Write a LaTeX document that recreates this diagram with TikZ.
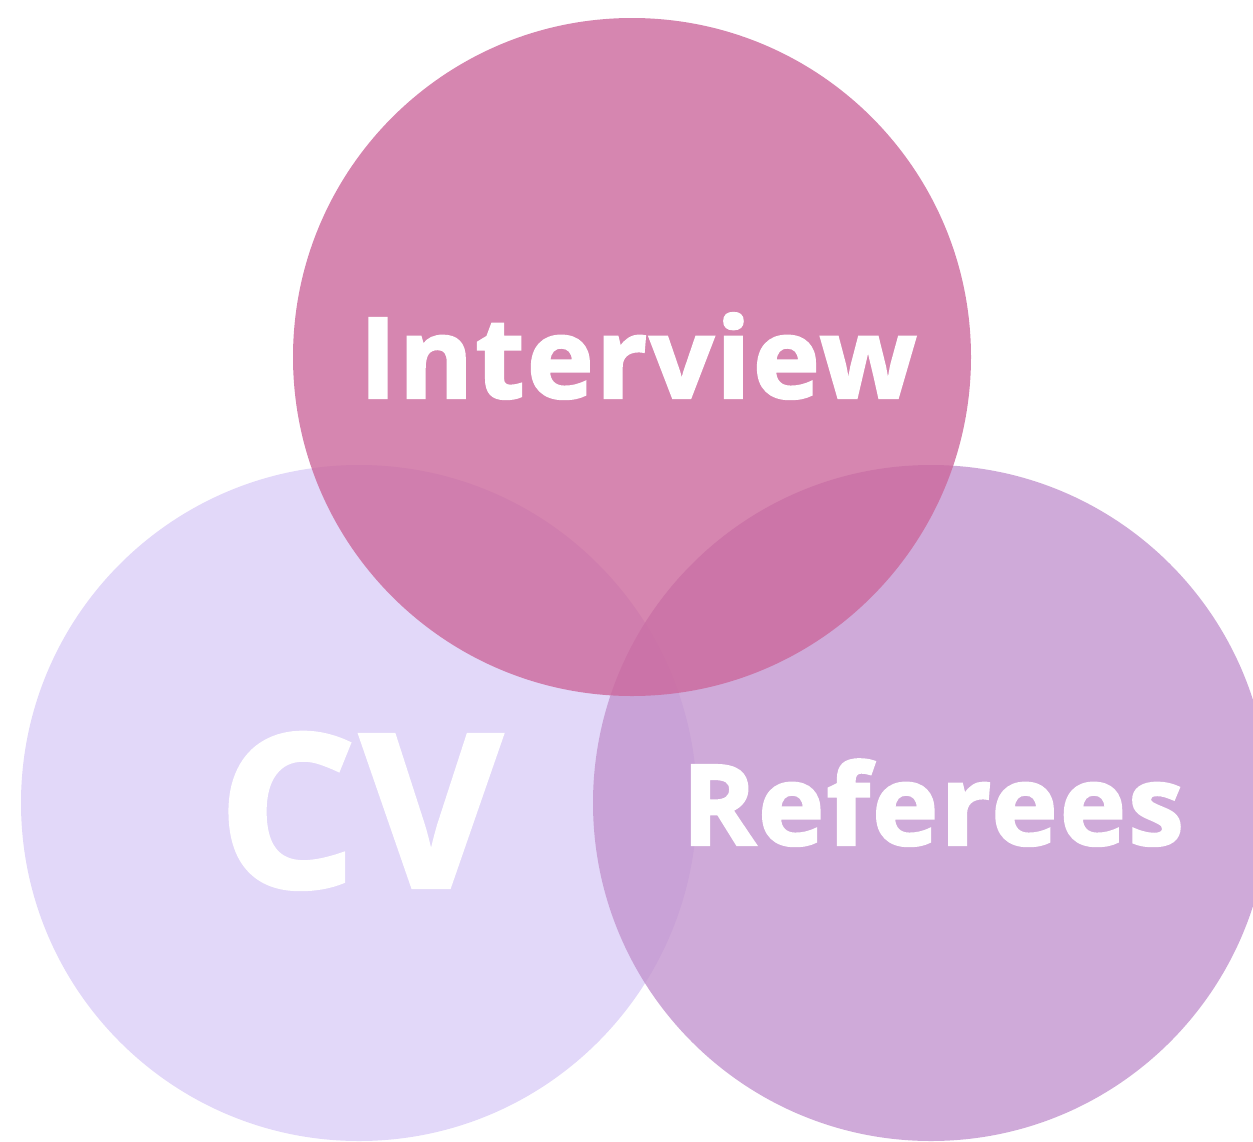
\documentclass[tikz,border=0pt]{standalone}
\usepackage{fontspec}
\setmainfont{Open Sans}[BoldFeatures={FakeBold=2,LetterSpace=2}]
\definecolor{topc}{HTML}{CC689C}
\definecolor{leftc}{HTML}{DBCEF7}
\definecolor{rightc}{HTML}{C395CF}
\begin{document}
\begin{tikzpicture}[x=1pt,y=-1pt,
  venn/.style={fill opacity=0.8, draw=none},
  lbl/.style={text=white, font=\bfseries, inner sep=0pt, anchor=base}]
\useasboundingbox (0,0) rectangle (1253,1141);
\clip (0,0) rectangle (1253,1141);
\fill[venn, leftc] (359,803) circle[radius=338];
\fill[venn, rightc] (931,803) circle[radius=338];
\fill[venn, topc] (632,357) circle[radius=339];
\node[lbl, xscale=1.01, font=\bfseries\fontsize{112}{112}\selectfont] (interview) at (638,398) {Interview};
\node[lbl, xscale=1.02, font=\bfseries\fontsize{213}{213}\selectfont] (cv) at (360,887) {CV};
\node[lbl, xscale=1.0, font=\bfseries\fontsize{112}{112}\selectfont] (referees) at (933,845) {Referees};
\end{tikzpicture}
\end{document}
